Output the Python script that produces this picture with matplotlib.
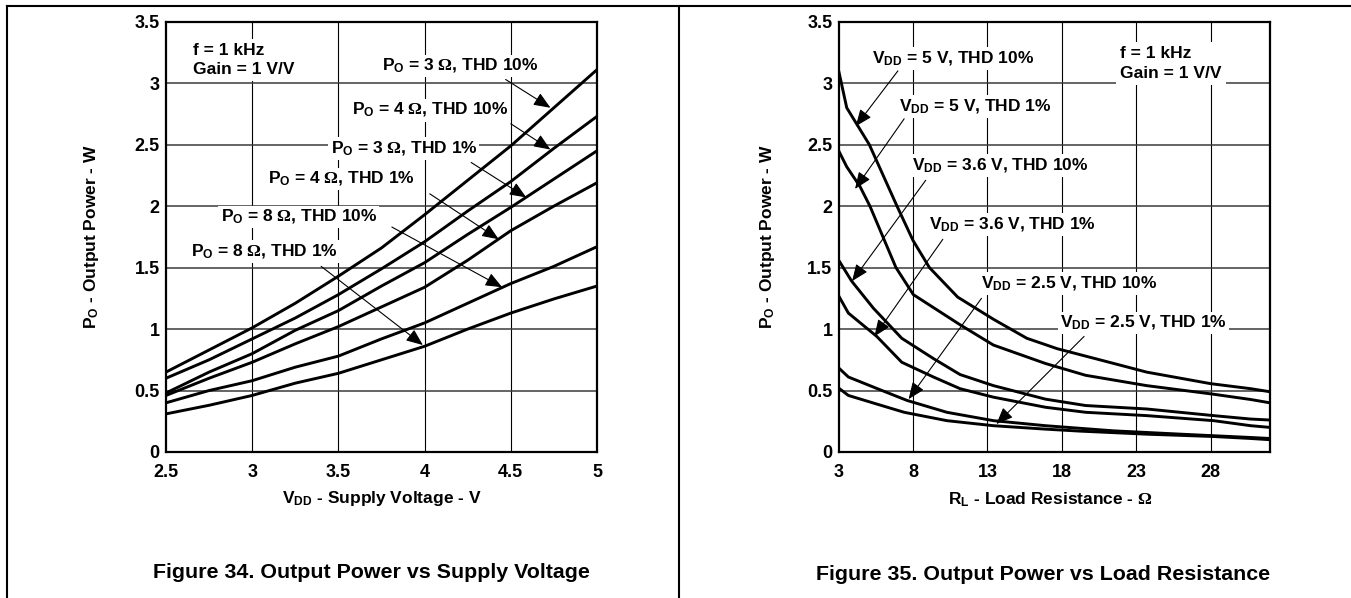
import matplotlib
matplotlib.use("Agg")
import matplotlib.pyplot as plt
from matplotlib.lines import Line2D

plt.rcParams['font.family'] = ['Liberation Sans', 'DejaVu Sans']
plt.rcParams['font.weight'] = 'bold'
plt.rcParams['mathtext.fontset'] = 'custom'
plt.rcParams['mathtext.rm'] = 'Liberation Sans:bold'
plt.rcParams['mathtext.it'] = 'Liberation Sans:bold'
plt.rcParams['mathtext.bf'] = 'Liberation Sans:bold'
plt.rcParams['mathtext.sf'] = 'Liberation Serif'

# ---------------- Figure 34 data ----------------
vdd = [2.5, 2.75, 3.0, 3.25, 3.5, 3.75, 4.0, 4.25, 4.5, 4.75, 5.0]
po_3ohm_thd10 = [0.65, 0.83, 1.01, 1.21, 1.43, 1.66, 1.93, 2.21, 2.49, 2.80, 3.11]
po_4ohm_thd10 = [0.60, 0.75, 0.92, 1.09, 1.28, 1.49, 1.71, 1.96, 2.20, 2.47, 2.73]
po_3ohm_thd1 = [0.48, 0.65, 0.80, 0.99, 1.15, 1.35, 1.54, 1.77, 1.99, 2.22, 2.45]
po_4ohm_thd1 = [0.46, 0.60, 0.73, 0.88, 1.02, 1.18, 1.34, 1.56, 1.80, 2.00, 2.19]
po_8ohm_thd10 = [0.40, 0.50, 0.58, 0.69, 0.78, 0.92, 1.05, 1.21, 1.37, 1.51, 1.67]
po_8ohm_thd1 = [0.31, 0.38, 0.46, 0.56, 0.64, 0.75, 0.86, 1.00, 1.13, 1.245, 1.35]
fig34_labels = [r'P$_{\mathrm{O}}$ = 3 $\mathsf{Ω}$, THD 10%',
                r'P$_{\mathrm{O}}$ = 4 $\mathsf{Ω}$, THD 10%',
                r'P$_{\mathrm{O}}$ = 3 $\mathsf{Ω}$, THD 1%',
                r'P$_{\mathrm{O}}$ = 4 $\mathsf{Ω}$, THD 1%',
                r'P$_{\mathrm{O}}$ = 8 $\mathsf{Ω}$, THD 10%',
                r'P$_{\mathrm{O}}$ = 8 $\mathsf{Ω}$, THD 1%']
fig34_xticks = [2.5, 3, 3.5, 4, 4.5, 5]
yticks = [0, 0.5, 1, 1.5, 2, 2.5, 3, 3.5]
ytick_labels = ['0', '0.5', '1', '1.5', '2', '2.5', '3', '3.5']

# ---------------- Figure 35 data ----------------
rl_5v_10 = [3, 3.54, 5.06, 6.92, 8.0, 9.1, 11.0, 13.4, 15.65, 17.7, 21.5, 23.7, 28.0, 30.7, 32]
po_5v_10 = [3.10, 2.80, 2.50, 2.00, 1.72, 1.50, 1.26, 1.08, 0.925, 0.84, 0.72, 0.65, 0.556, 0.515, 0.49]
rl_5v_1 = [3, 3.54, 4.43, 5.1, 6.85, 8.02, 11.16, 13.4, 16.9, 19.6, 23.7, 28.2, 30.7, 32]
po_5v_1 = [2.45, 2.32, 2.16, 2.00, 1.50, 1.28, 1.035, 0.87, 0.72, 0.624, 0.54, 0.47, 0.427, 0.40]
rl_36v_10 = [3, 3.87, 5.33, 7.24, 9.37, 11.16, 13.4, 16.9, 19.6, 23.7, 28.2, 30.7, 32]
po_36v_10 = [1.56, 1.39, 1.17, 0.925, 0.76, 0.63, 0.54, 0.43, 0.378, 0.35, 0.296, 0.268, 0.26]
rl_36v_1 = [3, 3.65, 5.56, 7.24, 9.37, 11.16, 13.4, 16.9, 19.6, 23.7, 28.2, 30.7, 32]
po_36v_1 = [1.27, 1.13, 0.94, 0.73, 0.61, 0.515, 0.446, 0.364, 0.323, 0.296, 0.255, 0.214, 0.20]
rl_25v_10 = [3, 3.65, 5.5, 7.58, 10.27, 13.4, 16.9, 21.5, 26.0, 30.7, 32]
po_25v_10 = [0.684, 0.61, 0.52, 0.42, 0.323, 0.255, 0.214, 0.172, 0.145, 0.118, 0.11]
rl_25v_1 = [3, 3.65, 5.56, 7.4, 10.27, 13.4, 16.9, 19.2, 23.7, 28.2, 30.7, 32]
po_25v_1 = [0.52, 0.46, 0.39, 0.323, 0.255, 0.214, 0.186, 0.17, 0.145, 0.126, 0.11, 0.10]
fig35_labels = [r'V$_{\mathrm{DD}}$ = 5 V, THD 10%',
                r'V$_{\mathrm{DD}}$ = 5 V, THD 1%',
                r'V$_{\mathrm{DD}}$ = 3.6 V, THD 10%',
                r'V$_{\mathrm{DD}}$ = 3.6 V, THD 1%',
                r'V$_{\mathrm{DD}}$ = 2.5 V, THD 10%',
                r'V$_{\mathrm{DD}}$ = 2.5 V, THD 1%']
fig35_xticks = [3, 8, 13, 18, 23, 28]

# ---------------- annotation layout (text centre, arrow tail, arrow head) ----------------
fig34_text_pos = [(4.205, 3.14), (4.03, 2.78), (3.88, 2.47), (3.52, 2.22), (3.27, 1.91), (3.07, 1.63)]
fig34_arrows = [((4.47, 3.03), (4.73, 2.80)),
                ((4.50, 2.67), (4.73, 2.46)),
                ((4.27, 2.355), (4.59, 2.07)),
                ((4.03, 2.10), (4.43, 1.73)),
                ((3.81, 1.83), (4.45, 1.34)),
                ((3.40, 1.51), (3.99, 0.87))]
fig35_text_pos = [(10.7, 3.20), (12.2, 2.81), (13.9, 2.33), (14.7, 1.85), (18.5, 1.37), (23.5, 1.05)]
fig35_arrows = [((6.98, 3.10), (4.15, 2.65)),
                ((7.4, 2.71), (4.1, 2.14)),
                ((8.85, 2.21), (3.9, 1.39)),
                ((10.0, 1.73), (5.4, 0.94)),
                ((12.6, 1.25), (7.7, 0.43)),
                ((19.5, 0.94), (13.6, 0.227))]

W, H = 1351, 598
fig = plt.figure(figsize=(W / 100, H / 100), dpi=100)

FS = 12.5
TICK_FS = 13
LW_CURVE = 2.1
GRID_C = '#3a3a3a'


def px_axes(x0, y0, x1, y1):
    return fig.add_axes([x0 / W, 1 - y1 / H, (x1 - x0) / W, (y1 - y0) / H])


def style(ax, xlim, xticks, grid_x):
    ax.set_xlim(*xlim)
    ax.set_ylim(0, 3.5)
    ax.set_xticks(xticks)
    ax.set_xticklabels([('%g' % t) for t in xticks])
    ax.set_yticks(yticks)
    ax.set_yticklabels(ytick_labels)
    ax.tick_params(length=0, labelsize=TICK_FS, pad=4.5)
    ax.tick_params(axis='x', pad=8.5)
    for lab in ax.get_xticklabels() + ax.get_yticklabels():
        lab.set_fontweight('bold')
    for s in ax.spines.values():
        s.set_linewidth(1.6)
        s.set_color('black')
    for gx in grid_x:
        ax.axvline(gx, color='black', lw=0.8, zorder=0.5)
    for gy in yticks[1:-1]:
        ax.axhline(gy, color=GRID_C, lw=1.1, zorder=0.5)


def annotate(ax, labels, text_pos, arrows):
    for lab, (tx, ty), (tail, head) in zip(labels, text_pos, arrows):
        ax.text(tx, ty, lab, ha='center', va='center', fontsize=FS, fontweight='bold',
                zorder=2, bbox=dict(facecolor='white', edgecolor='none', pad=1.5))
        ax.annotate('', xy=head, xytext=tail, zorder=5,
                    arrowprops=dict(arrowstyle='-|>,head_length=0.68,head_width=0.28',
                                    mutation_scale=15, lw=0.8, color='black',
                                    shrinkA=0, shrinkB=0))


# ---- left: Figure 34 ----
ax1 = px_axes(166, 21.7, 597, 452)
style(ax1, (2.5, 5), fig34_xticks, [3, 3.5, 4, 4.5])
for ys in [po_3ohm_thd10, po_4ohm_thd10, po_3ohm_thd1, po_4ohm_thd1, po_8ohm_thd10, po_8ohm_thd1]:
    ax1.plot(vdd, ys, color='black', lw=LW_CURVE, zorder=3, solid_capstyle='butt')
annotate(ax1, fig34_labels, fig34_text_pos, fig34_arrows)
ax1.text(2.655, 3.19, 'f = 1 kHz\nGain = 1 V/V', ha='left', va='center', fontsize=FS,
         fontweight='bold', linespacing=1.35, zorder=2,
         bbox=dict(facecolor='white', edgecolor='none', pad=3))
ax1.set_xlabel(r'V$_{\mathrm{DD}}$ - Supply Voltage - V', fontsize=FS, fontweight='bold')
ax1.set_ylabel(r'P$_{\mathrm{O}}$ - Output Power - W', fontsize=FS, fontweight='bold')
ax1.xaxis.set_label_coords(0.5, -0.086)
ax1.yaxis.set_label_coords(-0.15, 0.5)

# ---- right: Figure 35 ----
ax2 = px_axes(838.7, 21.7, 1270, 452)
style(ax2, (3, 32), fig35_xticks, [8, 13, 18, 23, 28])
for xs, ys in [(rl_5v_10, po_5v_10), (rl_5v_1, po_5v_1), (rl_36v_10, po_36v_10),
               (rl_36v_1, po_36v_1), (rl_25v_10, po_25v_10), (rl_25v_1, po_25v_1)]:
    ax2.plot(xs, ys, color='black', lw=LW_CURVE, zorder=3, solid_capstyle='butt')
annotate(ax2, fig35_labels, fig35_text_pos, fig35_arrows)
ax2.text(21.93, 3.16, 'f = 1 kHz\nGain = 1 V/V', ha='left', va='center', fontsize=FS,
         fontweight='bold', linespacing=1.35, zorder=2,
         bbox=dict(facecolor='white', edgecolor='none', pad=3))
ax2.set_xlabel(r'R$_{\mathrm{L}}$ - Load Resistance - $\mathsf{Ω}$', fontsize=FS, fontweight='bold')
ax2.set_ylabel(r'P$_{\mathrm{O}}$ - Output Power - W', fontsize=FS, fontweight='bold')
ax2.xaxis.set_label_coords(0.49, -0.088)
ax2.yaxis.set_label_coords(-0.144, 0.5)

# ---- captions ----
fig.text(371 / W, 1 - 572 / H, 'Figure 34. Output Power vs Supply Voltage', ha='center', va='center',
         fontsize=15.4, fontweight='bold')
fig.text(1043 / W, 1 - 574 / H, 'Figure 35. Output Power vs Load Resistance', ha='center', va='center',
         fontsize=15.4, fontweight='bold')

# ---- page frame lines ----
for (x0, y0, x1, y1) in [(7, 6, W, 6), (7, 6, 7, H), (679, 6, 679, H)]:
    fig.add_artist(Line2D([x0 / W, x1 / W], [1 - y0 / H, 1 - y1 / H], transform=fig.transFigure,
                          color='black', lw=1.5))

fig.savefig('out.png', dpi=100)
